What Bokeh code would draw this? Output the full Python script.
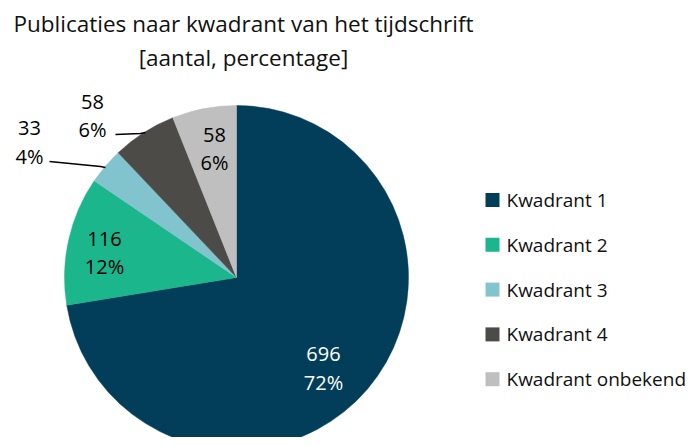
import math
from bokeh.plotting import figure
from bokeh.models import Range1d, ColumnDataSource
from bokeh.core.properties import value
from bokeh.embed import file_html
from bokeh.resources import INLINE

# ---- data ----
categories = ["Kwadrant 1", "Kwadrant 2", "Kwadrant 3", "Kwadrant 4", "Kwadrant onbekend"]
counts = [696, 116, 33, 58, 58]
percent_labels = ["72%", "12%", "4%", "6%", "6%"]
colors = ["#023E5A", "#1BB68C", "#82C4CE", "#4D4B47", "#BFBFBF"]
title_lines = ["Publicaties naar kwadrant van het tijdschrift", "[aantal, percentage]"]

# ---- layout (data x = img x, data y = 445 - img y) ----
W, H = 689, 437
FONT = "Open Sans"
cx, cy, R = 236, 445 - 277, 172

p = figure(width=W, height=H, output_backend="svg", toolbar_location=None,
           x_range=Range1d(0, 689), y_range=Range1d(8, 445),
           min_border=0, min_border_left=0, min_border_right=0,
           min_border_top=0, min_border_bottom=0)
p.axis.visible = False
p.grid.visible = False
p.outline_line_color = None
p.background_fill_color = "white"

total = sum(counts)
starts, ends = [], []
acc = 0
for c in counts:
    starts.append(math.pi / 2 - 2 * math.pi * acc / total)
    acc += c
    ends.append(math.pi / 2 - 2 * math.pi * acc / total)

src = ColumnDataSource(dict(start=starts, end=ends, color=colors))
p.wedge(x=cx, y=cy, radius=R, start_angle="start", end_angle="end",
        direction="clock", fill_color="color", line_color="color",
        line_width=0.5, source=src)

# data label positions (image coords: x centre, y of first line, y of second line)
label_pos = [(323, 353, 382), (104, 238, 266), (29, 127, 156), (92, 101, 129), (214, 134, 162)]
label_col = ["white", "black", "black", "black", "black"]
for (lx, ly1, ly2), n, pc, col in zip(label_pos, counts, percent_labels, label_col):
    p.text(x=[lx, lx], y=[445 - ly1, 445 - ly2], text=[str(n), pc], text_font=value(FONT),
           text_font_size="20px", text_color=col, text_align="center",
           text_baseline="middle")

# leader lines
p.line(x=[49, 100, 105], y=[445 - 161, 445 - 166, 445 - 167], line_color="black", line_width=1.5)
p.line(x=[115, 140, 145], y=[445 - 134, 445 - 133, 445 - 132], line_color="black", line_width=1.5)

# title
for i, t in enumerate(title_lines):
    p.text(x=[243], y=[445 - (23 + 34 * i)], text=[t], text_font=value(FONT),
           text_font_size="22.5px", text_color="#111111", text_align="center",
           text_baseline="middle")

# legend
leg_y = [199.5 + 44.8 * i for i in range(len(categories))]
p.rect(x=[492] * len(categories), y=[445 - v for v in leg_y], width=14, height=14,
       fill_color=colors, line_color=None)
p.text(x=[506] * len(categories), y=[445 - v for v in leg_y], text=categories,
       text_font=value(FONT), text_font_size="19px", text_color="#111111",
       text_align="left", text_baseline="middle")

open("out.html", "w").write(file_html(p, INLINE))
